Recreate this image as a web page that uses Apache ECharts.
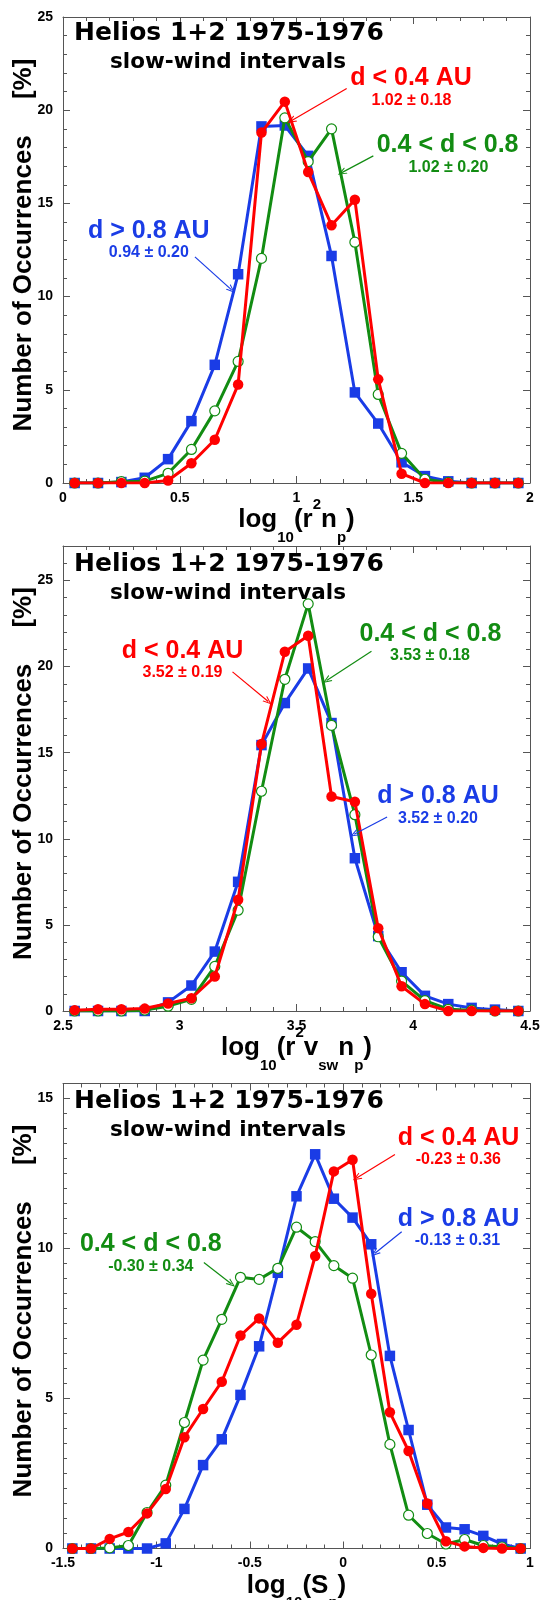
<!DOCTYPE html>
<html><head><meta charset="utf-8">
<script src="https://cdn.jsdelivr.net/npm/echarts@6/dist/echarts.min.js"></script>
<style>html,body{margin:0;padding:0;background:#fff}#c{width:542px;height:1600px}</style>
</head><body><div id="c"></div>
<script>
// ---------- data ----------
const xBins1 = [0.05,0.15,0.25,0.35,0.45,0.55,0.65,0.75,0.85,0.95,1.05,1.15,1.25,1.35,1.45,1.55,1.65,1.75,1.85,1.95];
const red1   = [0,0,0,0,0.13,1.06,2.32,5.28,18.8,20.46,16.68,13.83,15.2,5.56,0.5,0,0,0,0,0];
const green1 = [0,0,0.07,0.1,0.52,1.8,3.87,6.52,12.05,19.59,17.24,19.0,12.92,4.75,1.59,0.2,0.03,0,0,0];
const blue1  = [0,0,0.05,0.28,1.28,3.32,6.34,11.2,19.13,19.18,17.55,12.18,4.86,3.19,1.11,0.37,0.09,0,0,0];

const xBins2 = [2.55,2.65,2.75,2.85,2.95,3.05,3.15,3.25,3.35,3.45,3.55,3.65,3.75,3.85,3.95,4.05,4.15,4.25,4.35,4.45];
const red2   = [0.05,0.1,0.1,0.14,0.44,0.74,2.0,6.46,15.5,20.86,21.79,12.45,12.15,4.81,1.44,0.4,0,0,0,0];
const green2 = [0,0,0,0.05,0.28,0.68,2.59,5.85,12.76,19.26,23.64,16.59,11.4,4.31,1.74,0.6,0.1,0.05,0,0];
const blue2  = [0,0,0,0,0.5,1.48,3.45,7.5,15.44,17.88,19.89,16.72,8.87,4.35,2.25,0.88,0.4,0.18,0.08,0];

const xBins3 = [-1.45,-1.35,-1.25,-1.15,-1.05,-0.95,-0.85,-0.75,-0.65,-0.55,-0.45,-0.35,-0.25,-0.15,-0.05,0.05,0.15,0.25,0.35,0.45,0.55,0.65,0.75,0.85,0.95];
const red3   = [0,0,0.32,0.55,1.17,1.98,3.71,4.65,5.56,7.1,7.67,6.86,7.46,9.75,12.57,12.96,8.49,4.54,3.25,1.5,0.24,0.07,0.02,0,0];
const green3 = [0,0,0.02,0.1,1.2,2.11,4.2,6.28,7.64,9.04,8.97,9.34,10.71,10.23,9.43,9.01,6.45,3.47,1.11,0.5,0.15,0.3,0.1,0.05,0];
const blue3  = [0,0,0,0,0,0.17,1.32,2.78,3.64,5.12,6.74,9.19,11.74,13.14,11.66,11.03,10.14,6.42,3.95,1.46,0.7,0.64,0.42,0.15,0];

// axis ranges [min, max, major interval, minor interval]
const xRanges = [[0, 2, 0.5], [2.5, 4.5, 0.5], [-1.5, 1, 0.5]];
const yRanges = [[0, 25, 5, 1], [0, 27, 5, 1], [0, 15.5, 5, 0.5]];

// annotation texts
const titleMain = 'Helios 1+2 1975-1976';
const titleSub = 'slow-wind intervals';
const groupNames = ['d < 0.4 AU', '0.4 < d < 0.8', 'd > 0.8 AU'];
const stats1 = ['1.02 ± 0.18', '1.02 ± 0.20', '0.94 ± 0.20'];
const stats2 = ['3.52 ± 0.19', '3.53 ± 0.18', '3.52 ± 0.20'];
const stats3 = ['-0.23 ± 0.36', '-0.30 ± 0.34', '-0.13 ± 0.31'];
// arrows (data coords) [from, to] per group red, green, blue
const arrows1 = [[[1.215,21.16],[0.978,19.43]], [[1.329,17.55],[1.194,16.65]], [[0.565,12.13],[0.722,10.36]]];
const arrows2 = [[[3.226,19.69],[3.379,17.97]], [[3.821,20.89],[3.629,19.19]], [[3.888,11.27],[3.747,10.26]]];
const arrows3 = [[[0.277,13.13],[0.072,12.35]], [[-0.746,9.53],[-0.598,8.82]], [[0.313,10.56],[0.170,9.84]]];

// ---------- styling ----------
const RED = '#ff0000', GREEN = '#128c12', BLUE = '#1a3ce6';
const FONT = '"Liberation Sans", Arial, Helvetica, sans-serif';
const TFONT = '"DejaVu Sans", sans-serif';
const FRAME = '#555';

const grids = [
  {left: 63, top: 17, width: 467, height: 466},
  {left: 63, top: 546, width: 467, height: 465},
  {left: 63, top: 1083.5, width: 467, height: 465}
];

const richBase = {
  m: {fontSize: 26, fontWeight: 'bold', fontFamily: FONT, color: '#000', lineHeight: 50, verticalAlign: 'middle'},
  s: {fontSize: 15, fontWeight: 'bold', fontFamily: FONT, color: '#000', verticalAlign: 'bottom'},
  u: {fontSize: 15, fontWeight: 'bold', fontFamily: FONT, color: '#000', verticalAlign: 'top', padding: [2, 0, 0, 0]}
};
const xNames = [
  '{m|log}{s|10}{m|(r}{u|2}{m|n}{s|p}{m|)}',
  '{m|log}{s|10}{m|(r}{u|2}{m|v}{s|sw}{m|n}{s|p}{m|)}',
  '{m|log}{s|10}{m|(S}{s|p}{m|)}'
];

const xAxes = [], yAxes = [];
const tickStyle = {color: FRAME, width: 1};
grids.forEach((g, i) => {
  const [xmin, xmax, xint] = xRanges[i];
  const [ymin, ymax, yint, yminor] = yRanges[i];
  const common = {gridIndex: i, type: 'value', splitLine: {show: false}, minorSplitLine: {show: false}};
  xAxes.push(Object.assign({}, common, {
    position: 'bottom', min: xmin, max: xmax, interval: xint,
    axisLine: {show: true, onZero: false, lineStyle: {color: FRAME, width: 1}},
    axisTick: {show: true, inside: true, length: 7, lineStyle: tickStyle},
    minorTick: {show: true, splitNumber: 5, length: 4, lineStyle: tickStyle},
    axisLabel: {show: true, margin: 8, fontSize: 14, fontWeight: 'bold', fontFamily: FONT, color: '#000',
      showMinLabel: true, showMaxLabel: true, hideOverlap: false},
    name: xNames[i], nameLocation: 'middle', nameGap: 12, nameMoveOverlap: false,
    nameTextStyle: {rich: richBase}
  }));
  xAxes.push(Object.assign({}, common, {
    position: 'top', min: xmin, max: xmax, interval: xint,
    axisLine: {show: true, onZero: false, lineStyle: {color: FRAME, width: 1}},
    axisTick: {show: true, inside: true, length: 7, lineStyle: tickStyle},
    minorTick: {show: true, splitNumber: 5, length: 4, lineStyle: tickStyle},
    axisLabel: {show: false}
  }));
  yAxes.push(Object.assign({}, common, {
    position: 'left', min: ymin, max: ymax, interval: yint,
    axisLine: {show: true, onZero: false, lineStyle: {color: FRAME, width: 1}},
    axisTick: {show: true, inside: true, length: 7, lineStyle: tickStyle},
    axisLabel: {show: true, margin: 10, fontSize: 14, fontWeight: 'bold', fontFamily: FONT, color: '#000',
      showMinLabel: true, showMaxLabel: true, hideOverlap: false,
      formatter: v => (Math.abs(v % yint) < 1e-9 ? String(v) : '')},
    name: 'Number of Occurrences     [%]', nameLocation: 'middle', nameGap: 26, nameMoveOverlap: false,
    nameTextStyle: {fontSize: 26, fontWeight: 'bold', fontFamily: FONT, color: '#000', padding: [0, 0, 0, 10]}
  }));
  yAxes.push(Object.assign({}, common, {
    position: 'left', min: ymin, max: ymax, interval: yminor,
    axisLine: {show: false, onZero: false}, axisTick: {show: true, inside: true, length: 4, lineStyle: tickStyle},
    axisLabel: {show: false}
  }));
  yAxes.push(Object.assign({}, common, {
    position: 'right', min: ymin, max: ymax, interval: yint,
    axisLine: {show: true, onZero: false, lineStyle: {color: FRAME, width: 1}},
    axisTick: {show: true, inside: true, length: 7, lineStyle: tickStyle},
    axisLabel: {show: false}
  }));
  yAxes.push(Object.assign({}, common, {
    position: 'right', min: ymin, max: ymax, interval: yminor,
    axisLine: {show: false, onZero: false}, axisTick: {show: true, inside: true, length: 4, lineStyle: tickStyle},
    axisLabel: {show: false}
  }));
});

const chevron = 'path://M5,0 L10,10 L8.4,10 L5,3 L1.6,10 L0,10 Z';
function arrowLine(a, color) {
  return {
    silent: true, animation: false,
    symbol: ['none', chevron], symbolSize: [7, 9],
    label: {show: false},
    lineStyle: {color: color, width: 1.2, type: 'solid'},
    emphasis: {disabled: true},
    data: [[{coord: a[0]}, {coord: a[1]}]]
  };
}
function pairs(xs, ys) { return xs.map((x, k) => [x, ys[k]]); }

const panels = [
  {xs: xBins1, r: red1, g: green1, b: blue1, ar: arrows1},
  {xs: xBins2, r: red2, g: green2, b: blue2, ar: arrows2},
  {xs: xBins3, r: red3, g: green3, b: blue3, ar: arrows3}
];
const series = [];
panels.forEach((p, i) => {
  const xi = i * 2, yi = i * 4;
  series.push({
    type: 'line', name: groupNames[2], xAxisIndex: xi, yAxisIndex: yi, data: pairs(p.xs, p.b),
    symbol: 'rect', symbolSize: 10.5, showSymbol: true, z: 2,
    lineStyle: {color: BLUE, width: 3}, itemStyle: {color: BLUE},
    markLine: arrowLine(p.ar[2], BLUE)
  });
  series.push({
    type: 'line', name: groupNames[1], xAxisIndex: xi, yAxisIndex: yi, data: pairs(p.xs, p.g),
    symbol: 'circle', symbolSize: 10, showSymbol: true, z: 3,
    lineStyle: {color: GREEN, width: 3}, itemStyle: {color: '#fff', borderColor: GREEN, borderWidth: 1.2},
    markLine: arrowLine(p.ar[1], GREEN)
  });
  series.push({
    type: 'line', name: groupNames[0], xAxisIndex: xi, yAxisIndex: yi, data: pairs(p.xs, p.r),
    symbol: 'circle', symbolSize: 10.5, showSymbol: true, z: 4,
    lineStyle: {color: RED, width: 3}, itemStyle: {color: RED},
    markLine: arrowLine(p.ar[0], RED)
  });
});

// text annotations: [text, color, fontSize, centerX, baselineY, family]
const notes = [
  [titleMain, '#000', 25, 229, 42, TFONT], [titleSub, '#000', 21.5, 228, 70, TFONT],
  [groupNames[0], RED, 25, 411, 86.7, FONT], [stats1[0], RED, 16, 411.5, 106, FONT],
  [groupNames[1], GREEN, 25, 447.6, 153.5, FONT], [stats1[1], GREEN, 16, 448.4, 172.8, FONT],
  [groupNames[2], BLUE, 25, 148.8, 239.3, FONT], [stats1[2], BLUE, 16, 148.8, 257.7, FONT],

  [titleMain, '#000', 25, 229, 573, TFONT], [titleSub, '#000', 21.5, 228, 601, TFONT],
  [groupNames[0], RED, 25, 182.5, 659.5, FONT], [stats2[0], RED, 16, 182.5, 678.3, FONT],
  [groupNames[1], GREEN, 25, 430.4, 642.3, FONT], [stats2[1], GREEN, 16, 430, 660.7, FONT],
  [groupNames[2], BLUE, 25, 438, 804.8, FONT], [stats2[2], BLUE, 16, 438, 823.8, FONT],

  [titleMain, '#000', 25, 229, 1110, TFONT], [titleSub, '#000', 21.5, 228, 1138, TFONT],
  [groupNames[0], RED, 25, 458.5, 1146.4, FONT], [stats3[0], RED, 16, 458.3, 1165.4, FONT],
  [groupNames[1], GREEN, 25, 150.8, 1253, FONT], [stats3[1], GREEN, 16, 150.8, 1271.7, FONT],
  [groupNames[2], BLUE, 25, 458.5, 1227.6, FONT], [stats3[2], BLUE, 16, 457.4, 1246, FONT]
];
const graphics = notes.map(n => ({
  type: 'text', x: n[3], y: n[4] - 0.3465 * n[2], silent: true, z: 100,
  style: {text: n[0], fill: n[1], fontSize: n[2], fontWeight: 'bold', fontFamily: n[5],
          align: 'center', verticalAlign: 'middle'}
}));

const chart = echarts.init(document.getElementById('c'), null, {renderer: 'canvas'});
chart.setOption({
  animation: false,
  backgroundColor: '#fff',
  grid: grids.map(g => Object.assign({containLabel: false, outerBoundsMode: 'none'}, g)),
  xAxis: xAxes,
  yAxis: yAxes,
  series: series,
  graphic: graphics,
  tooltip: {show: false}
});
</script></body></html>
